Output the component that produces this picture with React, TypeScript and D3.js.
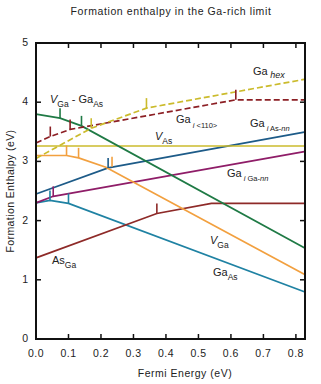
import React from 'react'
import * as d3 from 'd3'

// Fermi energy (eV) of each kink, and formation enthalpy (eV) there
const gaHexE = [0, 0.17, 0.34, 0.83]
const gaHexH = [3.05, 3.56, 3.9, 4.39]

const ga110E = [0, 0.044, 0.105, 0.615, 0.83]
const ga110H = [3.31, 3.42, 3.54, 4.04, 4.04]

const vAsE = [0, 0.83]
const vAsH = [3.26, 3.26]

const vGaGaAsE = [0, 0.074, 0.14, 0.83]
const vGaGaAsH = [3.8, 3.73, 3.6, 1.53]

const vGaE = [0, 0.094, 0.131, 0.215, 0.83]
const vGaH = [3.1, 3.1, 3.06, 2.9, 1.08]

const gaAsNnE = [0, 0.222, 0.83]
const gaAsNnH = [2.45, 2.89, 3.5]

const gaGaNnE = [0, 0.053, 0.83]
const gaGaNnH = [2.3, 2.41, 3.17]

const gaAsE = [0, 0.043, 0.1, 0.83]
const gaAsH = [2.3, 2.34, 2.29, 0.79]

const asGaE = [0, 0.372, 0.54, 0.83]
const asGaH = [1.37, 2.12, 2.29, 2.29]

// transition levels: energy, enthalpy on the line, colour
const levelE = [0.074, 0.14, 0.044, 0.105, 0.615, 0.17, 0.34, 0.094, 0.131, 0.234, 0.222, 0.053, 0.043, 0.1, 0.372]
const levelH = [3.73, 3.6, 3.42, 3.54, 4.04, 3.56, 3.9, 3.1, 3.06, 2.91, 2.89, 2.41, 2.34, 2.29, 2.12]
const levelC = ['green', 'green', 'red', 'red', 'red', 'yellow', 'yellow', 'orange', 'orange', 'orange', 'blue', 'purple', 'teal', 'teal', 'asga']

const xTicks = [0, 0.1, 0.2, 0.3, 0.4, 0.5, 0.6, 0.7, 0.8]
const yTicks = [0, 1, 2, 3, 4, 5]

const colors: Record<string, string> = {
  yellow: '#cbbb2c',
  red: '#8c1f24',
  green: '#1f7a45',
  orange: '#f2a03f',
  blue: '#1d5b88',
  purple: '#8f1d68',
  teal: '#1f82a3',
  asga: '#8e2a28',
}

const font = '"Liberation Sans", Arial, sans-serif'

export default function App() {
  const margin = { left: 36, right: 16, top: 43, bottom: 45 }
  const width = 321
  const height = 384

  const x = d3.scaleLinear().domain([0, 0.828]).range([margin.left, width - margin.right])
  const y = d3.scaleLinear().domain([0, 5]).range([height - margin.bottom, margin.top])

  const path = (es: number[], hs: number[]) =>
    d3
      .line<number>()
      .x(d => x(es[d]))
      .y(d => y(hs[d]))(d3.range(es.length)) || ''

  const series = [
    { e: gaAsE, h: gaAsH, c: colors.teal, dash: null },
    { e: asGaE, h: asGaH, c: colors.asga, dash: null },
    { e: gaGaNnE, h: gaGaNnH, c: colors.purple, dash: null },
    { e: gaAsNnE, h: gaAsNnH, c: colors.blue, dash: null },
    { e: vGaE, h: vGaH, c: colors.orange, dash: null },
    { e: vAsE, h: vAsH, c: colors.yellow, dash: null },
    { e: vGaGaAsE, h: vGaGaAsH, c: colors.green, dash: null },
    { e: ga110E, h: ga110H, c: colors.red, dash: '6,3' },
    { e: gaHexE, h: gaHexH, c: colors.yellow, dash: '6,3' },
  ]

  const [x0, x1] = x.range()
  const [y0, y1] = y.range()

  const sub = { fontSize: 8.5 }

  return (
    <svg
      width={width}
      height={height}
      style={{ position: 'absolute', left: 0, top: 0, background: '#fff' }}
      fontFamily={font}
    >
      {/* Title */}
      <text x={171} y={15} textAnchor="middle" fontSize={10.5} letterSpacing={0.6} fill="#222">
        Formation enthalpy in the Ga-rich limit
      </text>

      {/* lines */}
      {series.map((s, i) => (
        <path
          key={i}
          d={path(s.e, s.h)}
          fill="none"
          stroke={s.c}
          strokeWidth={1.7}
          strokeDasharray={s.dash || undefined}
        />
      ))}

      {/* transition level markers */}
      {levelE.map((e, i) => (
        <line
          key={i}
          x1={x(e)}
          x2={x(e)}
          y1={y(levelH[i])}
          y2={y(levelH[i]) - 10}
          stroke={colors[levelC[i]]}
          strokeWidth={1.6}
        />
      ))}

      {/* frame */}
      <rect x={x0} y={y1} width={x1 - x0} height={y0 - y1} fill="none" stroke="#111" strokeWidth={2} />

      {xTicks.map(t => (
        <g key={t}>
          <line x1={x(t)} x2={x(t)} y1={y0} y2={y0 - 5} stroke="#111" strokeWidth={1.5} />
          <line x1={x(t)} x2={x(t)} y1={y1} y2={y1 + 5} stroke="#111" strokeWidth={1.5} />
          <text x={x(t)} y={357} textAnchor="middle" fontSize={10.5} letterSpacing={0.5} fill="#222">
            {t.toFixed(1)}
          </text>
        </g>
      ))}

      {yTicks.map(t => (
        <g key={t}>
          <line x1={x0} x2={x0 + 5} y1={y(t)} y2={y(t)} stroke="#111" strokeWidth={1.5} />
          <line x1={x1} x2={x1 - 5} y1={y(t)} y2={y(t)} stroke="#111" strokeWidth={1.5} />
          <text x={28} y={y(t) + 3} textAnchor="end" fontSize={10.5} fill="#222">
            {t}
          </text>
        </g>
      ))}

      {/* axis titles */}
      <text x={185} y={377} textAnchor="middle" fontSize={10.5} letterSpacing={0.5} fill="#222">
        Fermi Energy (eV)
      </text>
      <text
        transform={`translate(14, ${(y0 + y1) / 2}) rotate(-90)`}
        textAnchor="middle"
        fontSize={10.5}
        letterSpacing={0.4}
        fill="#222"
      >
        Formation Enthalpy (eV)
      </text>

      {/* labels */}
      <g fontSize={11} fill="#222">
        <text x={50} y={103}>
          <tspan fontStyle="italic">V</tspan>
          <tspan dy={4} {...sub}>Ga</tspan>
          <tspan dy={-4}> - Ga</tspan>
          <tspan dy={4} {...sub}>As</tspan>
        </text>
        <text x={253} y={75}>
          Ga
          <tspan dy={3} fontSize={9} fontStyle="italic"> hex</tspan>
        </text>
        <text x={176} y={123}>
          Ga
          <tspan dy={5} fontSize={7.5}>
            <tspan fontStyle="italic"> i</tspan> &lt;110&gt;
          </tspan>
        </text>
        <text x={250} y={127}>
          Ga
          <tspan dy={4} fontSize={7.5}>
            <tspan fontStyle="italic"> i</tspan> As-<tspan fontStyle="italic">nn</tspan>
          </tspan>
        </text>
        <text x={155} y={140}>
          <tspan fontStyle="italic">V</tspan>
          <tspan dy={4} {...sub}>As</tspan>
        </text>
        <text x={227} y={177}>
          Ga
          <tspan dy={4} fontSize={7.5}>
            <tspan fontStyle="italic"> i</tspan> Ga-<tspan fontStyle="italic">nn</tspan>
          </tspan>
        </text>
        <text x={52} y={264}>
          As
          <tspan dy={4} {...sub}>Ga</tspan>
        </text>
        <text x={210} y={244}>
          <tspan fontStyle="italic">V</tspan>
          <tspan dy={4} {...sub}>Ga</tspan>
        </text>
        <text x={213} y={276}>
          Ga
          <tspan dy={4} {...sub}>As</tspan>
        </text>
      </g>
    </svg>
  )
}
